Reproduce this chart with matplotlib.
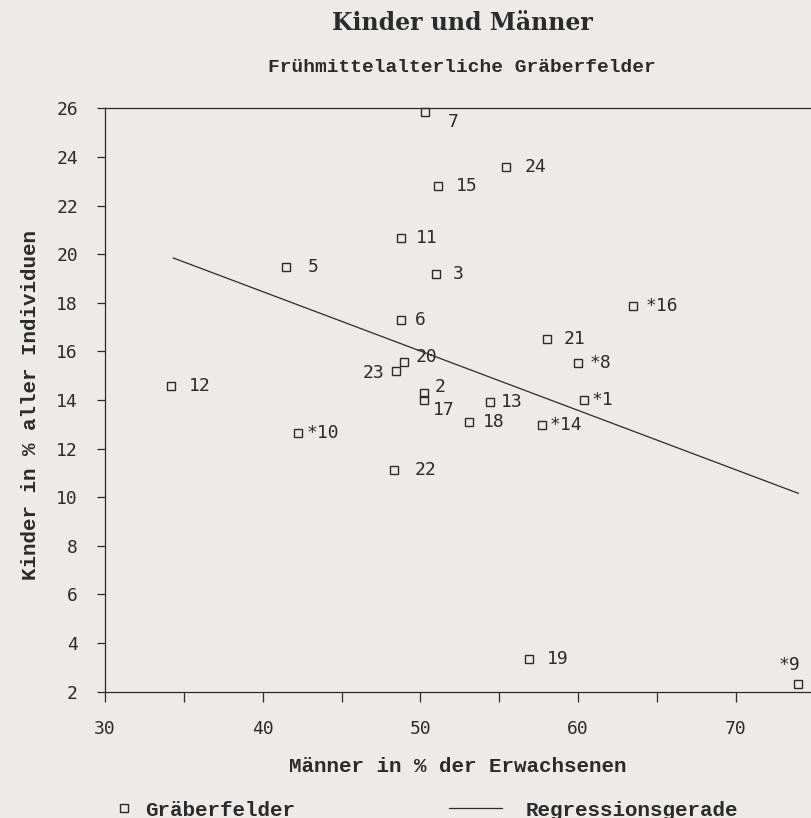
import numpy as np
import matplotlib.pyplot as plt

# Gräberfelder: Männer in % der Erwachsenen (x), Kinder in % aller Individuen (y)
nummern = ['*1', '2', '3', '5', '6', '7', '*8', '*9', '*10', '11', '12', '13',
           '*14', '15', '*16', '17', '18', '19', '20', '21', '22', '23', '24']
maenner = [60.4, 50.2, 51.0, 41.5, 48.75, 50.3, 60.0, 73.95, 42.25, 48.8, 34.2, 54.4,
           57.7, 51.1, 63.45, 50.2, 53.1, 56.9, 48.95, 58.0, 48.3, 48.45, 55.45]
kinder = [14.0, 14.3, 19.2, 19.47, 17.28, 25.84, 15.53, 2.33, 12.63, 20.66, 14.57, 13.91,
          12.97, 22.81, 17.85, 14.02, 13.1, 3.34, 15.58, 16.51, 11.12, 15.21, 23.58]

# Regressionsgerade
reg_achsenabschnitt = 28.23
reg_steigung = -0.2443
reg_x = np.array([34.33, 73.96])

x_ticks = [30, 40, 50, 60, 70]
y_ticks = list(range(2, 27, 2))

# Beschriftungen, die nicht einfach rechts neben dem Punkt stehen (Versatz in pt)
versatz = {
    '7': (16, -7, 'left'), '20': (8.6, 3.6, 'left'), '23': (-8, -2, 'right'),
    '2': (8, 4.3, 'left'), '17': (6.5, -7.2, 'left'), '*10': (5.8, 0, 'left'),
    '13': (8, 0, 'left'), '18': (9.4, 0, 'left'), '*14': (5.8, 0, 'left'),
    '*1': (5, 0, 'left'), '*8': (8.6, 0, 'left'), '*16': (9.4, 0, 'left'),
    '21': (12.2, 0, 'left'), '11': (10, 0, 'left'), '3': (12.2, 0, 'left'),
    '6': (10, 0, 'left'), '5': (15, 0, 'left'), '22': (15, 0, 'left'),
    '*9': (1.5, 13.7, 'right'),
}

tinte = '#2b2b2b'
papier = '#ecebe9'
plt.rcParams['font.family'] = 'DejaVu Sans Mono'

fig = plt.figure(figsize=(8.12, 8.18), dpi=100, facecolor=papier)
ax = fig.add_axes([0.1293, 0.1544, 0.8707, 0.7132])
ax.set_facecolor(papier)

punkte, = ax.plot(maenner, kinder, 's', ms=6, mfc='none', mec=tinte, mew=1.0,
                  ls='none', clip_on=False, label='Gräberfelder')
gerade, = ax.plot(reg_x, reg_achsenabschnitt + reg_steigung * reg_x,
                  color=tinte, lw=0.9, label='Regressionsgerade')

for nr, x, y in zip(nummern, maenner, kinder):
    dx, dy, ha = versatz.get(nr, (13, 0, 'left'))
    ax.annotate(nr, (x, y), xytext=(dx, dy), textcoords='offset points',
                ha=ha, va='center', fontsize=13, color=tinte)

ax.set_xlim(30, 74.83)
ax.set_ylim(2, 26)
ax.set_xticks(x_ticks)
ax.set_xticks([35, 45, 55, 65], minor=True)
ax.set_yticks(y_ticks)
ax.tick_params(axis='both', which='both', direction='out', length=7, width=0.9,
               color=tinte, labelcolor=tinte, labelsize=13, pad=13.5)
ax.tick_params(axis='y', length=6)
for s in ['left', 'bottom', 'top']:
    ax.spines[s].set_color(tinte)
    ax.spines[s].set_linewidth(0.9)
ax.spines['right'].set_visible(False)

fett = dict(family='Liberation Mono', weight='bold', size=15, color=tinte)
ax.set_xlabel('Männer in % der Erwachsenen', va='center', **fett)
ax.xaxis.set_label_coords(0.499, -0.129)
ax.set_ylabel('Kinder in % aller Individuen', va='center', ha='center', **fett)
ax.yaxis.set_label_coords(-0.106, 0.491)

fig.text(0.569, 1 - 23 / 818, 'Kinder und Männer', ha='center', va='center',
         family='DejaVu Serif', weight='bold', size=17, color=tinte)
fig.text(0.569, 1 - 68 / 818, 'Frühmittelalterliche Gräberfelder', ha='center',
         va='center', family='Liberation Mono', weight='bold', size=14, color=tinte)

leg_prop = dict(family='Liberation Mono', weight='bold', size=15)
fig.legend(handles=[punkte], loc='center left', bbox_to_anchor=(117 / 812, 1 - 810 / 818),
           frameon=False, borderpad=0, borderaxespad=0, handlelength=0.69,
           handletextpad=0.65, numpoints=1, prop=leg_prop, labelcolor=tinte)
fig.legend(handles=[gerade], loc='center left', bbox_to_anchor=(449 / 812, 1 - 810 / 818),
           frameon=False, borderpad=0, borderaxespad=0, handlelength=2.55,
           handletextpad=1.15, prop=leg_prop, labelcolor=tinte)

fig.savefig('out.png', dpi=100, facecolor=papier)
